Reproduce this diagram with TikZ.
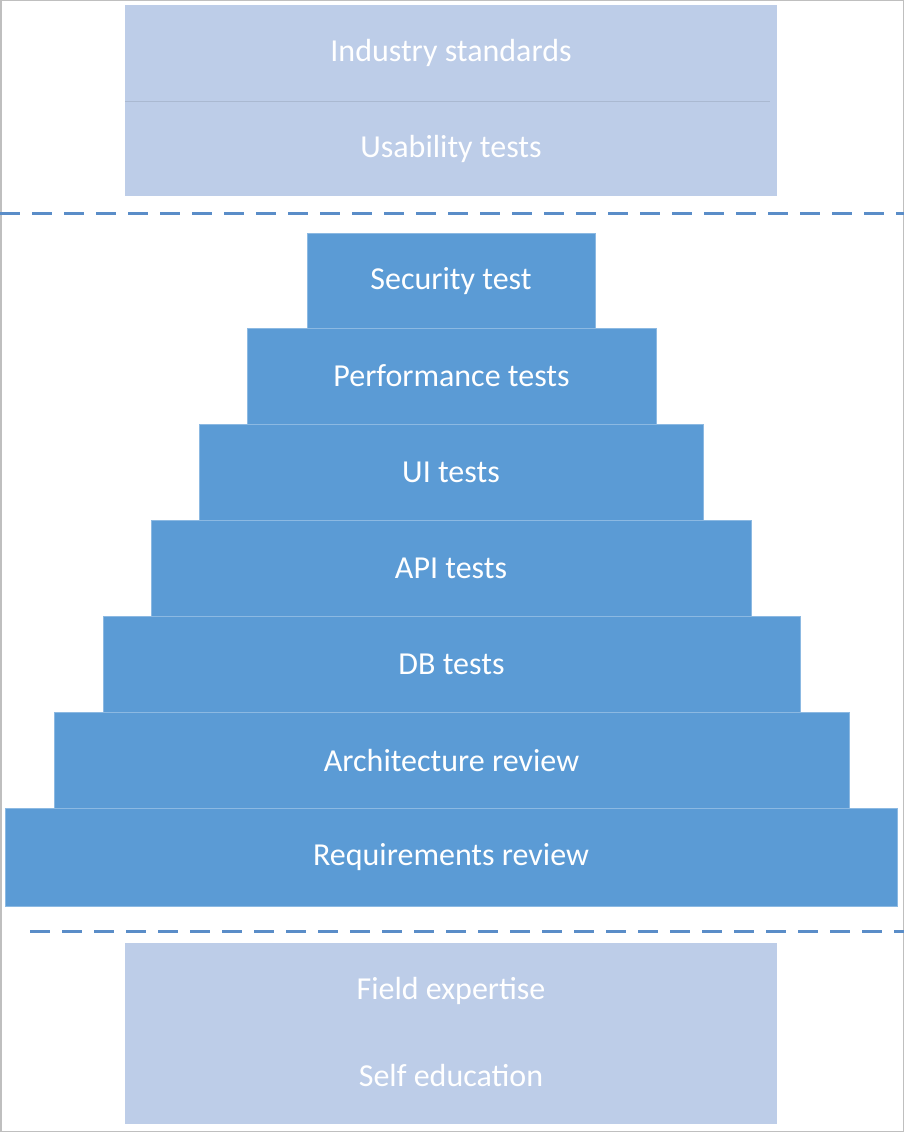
\documentclass[tikz,border=0pt]{standalone}
\usepackage{fontspec}
\setmainfont{Carlito}
\usepackage{tikz}

\definecolor{tierblue}{HTML}{5B9BD5}
\definecolor{extrablue}{HTML}{BDCDE8}
\definecolor{dashblue}{HTML}{5A8DC8}

\tikzset{
  tier/.style={fill=tierblue, draw=tierblue!70!white, line width=1pt,
    text=white, font=\fontsize{32}{38}\selectfont, inner sep=0pt},
  extra/.style={fill=extrablue, draw=none,
    text=white, font=\fontsize{32}{38}\selectfont, inner sep=0pt},
  split/.style={dashblue, line width=3pt, dash pattern=on 20pt off 12pt}
}

\begin{document}
\begin{tikzpicture}[x=1pt,y=-1pt]
			\useasboundingbox (0,0) rectangle (904,1132);
			\draw[gray!50, line width=1.5pt] (0.75,0.75) rectangle (903.25,1131.25);
			
			% top group
			\node[extra, minimum width=652, minimum height=96] (ind) at (451,53) {Industry standards};
			\node[extra, minimum width=652, minimum height=95] (usa) at (451,148.5) {Usability tests};
			\draw[extrablue!90!black, line width=1pt] (ind.south west) -- ([xshift=-7pt]ind.south east);
			
			\coordinate (d1a) at (0,213);
			\coordinate (d1b) at (904,213);
			\draw[split] (d1a) -- (d1b);
			
			% pyramid
			\node[tier, minimum width=288, minimum height=95] (sec) at (451,281) {Security test};
			\node[tier, minimum width=409, minimum height=96] (perf) at (451.5,376) {Performance tests};
			\node[tier, minimum width=504, minimum height=96] (ui) at (451,472) {UI tests};
			\node[tier, minimum width=600, minimum height=96] (api) at (451,568) {API tests};
			\node[tier, minimum width=697, minimum height=96] (db) at (451.5,664) {DB tests};
			\node[tier, minimum width=795, minimum height=96] (arch) at (451.5,760) {Architecture review};
			\node[tier, minimum width=892, minimum height=98] (req) at (451,857) {Requirements review};
			
			\coordinate (d2a) at (30,931);
			\coordinate (d2b) at (904,931);
			\draw[split] (d2a) -- (d2b);
			
			% bottom group
			\node[extra, minimum width=652, minimum height=181] (base) at (451,1033.5) {};
			\node[extra] (field) at (451,991) {Field expertise};
			\node[extra] (self) at (451,1075) {Self education};
		\end{tikzpicture}
\end{document}
